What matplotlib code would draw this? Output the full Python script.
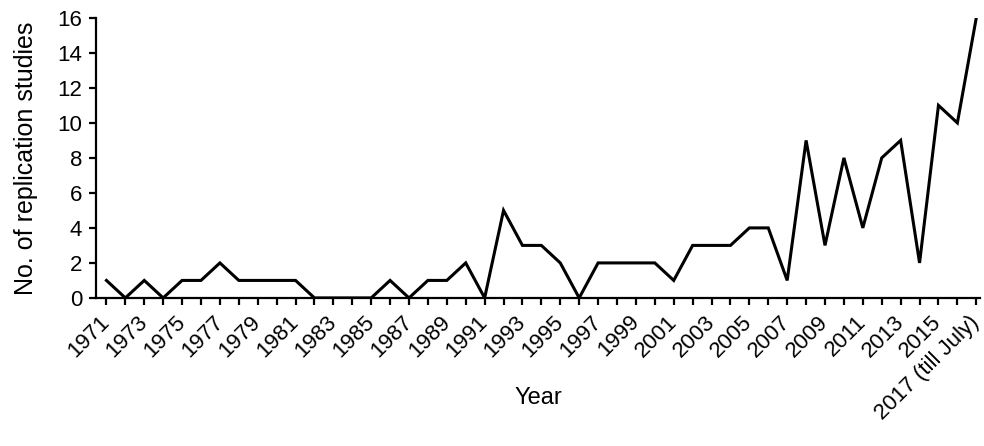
import matplotlib
matplotlib.use("Agg")
import matplotlib.pyplot as plt

plt.rcParams['font.family'] = ['Liberation Sans', 'DejaVu Sans']

years = list(range(1971, 2018))
studies = [1, 0, 1, 0, 1, 1, 2, 1, 1, 1, 1, 0, 0, 0, 0, 1, 0, 1, 1, 2,
           0, 5, 3, 3, 2, 0, 2, 2, 2, 2, 1, 3, 3, 3, 4, 4, 1, 9, 3, 8,
           4, 8, 9, 2, 11, 10, 16]
tick_labels = [str(y) if (y - 1971) % 2 == 0 else '' for y in years]
tick_labels[-1] = '2017 (till July)'

fig = plt.figure(figsize=(9.84, 4.46), dpi=100)
ax = fig.add_axes([0.0976, 0.332, 0.8984, 0.628])

ax.plot(years, studies, color='black', linewidth=2.2, solid_joinstyle='miter')

ax.set_xlim(1970.45, 2017.2)
ax.set_ylim(0, 16)
ax.set_yticks(range(0, 17, 2))
ax.set_xticks(years)
ax.set_xticklabels(tick_labels, rotation=45, ha='right', va='center',
                   rotation_mode='anchor')

for s in ['top', 'right']:
    ax.spines[s].set_visible(False)
for s in ['left', 'bottom']:
    ax.spines[s].set_linewidth(1.6)
ax.tick_params(direction='out', length=5, width=1.6, labelsize=16)
ax.tick_params(axis='x', pad=10)
ax.tick_params(axis='y', pad=5)

ax.set_xlabel('Year', fontsize=17, va='center')
ax.xaxis.set_label_coords(0.5, -0.357)
ax.set_ylabel('No. of replication studies', fontsize=18, va='center')
ax.yaxis.set_label_coords(-0.079, 0.5)

fig.savefig('out.png', dpi=100)
